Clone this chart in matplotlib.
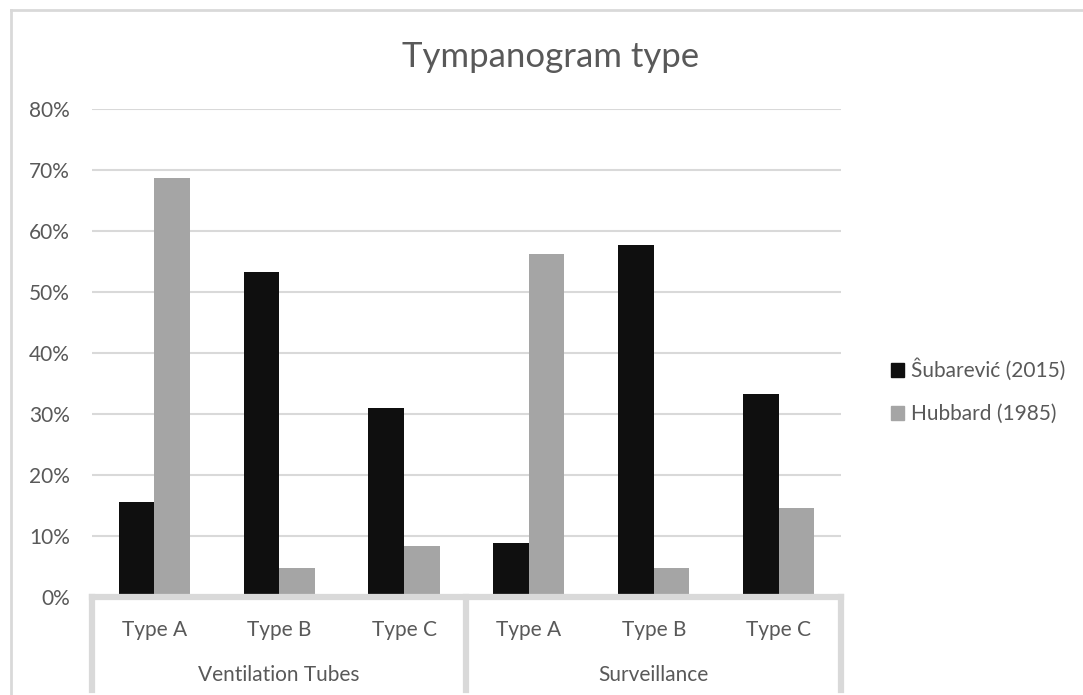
import numpy as np
import matplotlib.pyplot as plt
from matplotlib.lines import Line2D
from matplotlib.patches import Patch

types = ["Type A", "Type B", "Type C"]
groups = ["Ventilation Tubes", "Surveillance"]
series = ["Ŝubarević (2015)", "Hubbard (1985)"]

subarevic = [15.5, 53.2, 31.0, 8.8, 57.7, 33.3]
hubbard = [68.7, 4.6, 8.3, 56.2, 4.6, 14.5]

yticks = [0, 10, 20, 30, 40, 50, 60, 70, 80]

TEXT = "#595959"
GRID = "#d9d9d9"
BLACK = "#0f0f0f"
GREY = "#a5a5a5"


def main() -> None:
    plt.rcParams["font.family"] = ["Lato", "DejaVu Sans"]

    fig = plt.figure(figsize=(10.83, 6.95), dpi=100)
    ax = fig.add_axes([0.0849, 0.1417, 0.6916, 0.7015])

    x = np.arange(len(subarevic))
    w = 0.285
    ax.bar(x - w / 2, subarevic, w, color=BLACK, zorder=3)
    ax.bar(x + w / 2, hubbard, w, color=GREY, zorder=3)

    ax.set_xlim(-0.5, 5.5)
    ax.set_ylim(0, 80)
    ax.set_yticks(yticks)
    ax.set_yticklabels(["%d%%" % t for t in yticks])
    ax.yaxis.grid(True, color=GRID, linewidth=1.5, zorder=0)
    ax.tick_params(axis="y", length=0, pad=16, labelsize=15, labelcolor=TEXT)

    for s in ["top", "right", "left"]:
        ax.spines[s].set_visible(False)
    ax.spines["bottom"].set_color(GRID)
    ax.spines["bottom"].set_linewidth(4.5)
    ax.spines["bottom"].set_zorder(4)

    # two-level category axis
    ax.set_xticks(x)
    ax.set_xticklabels(types * len(groups))
    ax.tick_params(axis="x", length=0, pad=17, labelsize=15, labelcolor=TEXT)

    trans = ax.get_xaxis_transform()
    for xs in [-0.5, 2.5, 5.5]:
        ax.add_line(Line2D([xs, xs], [0, -0.192], transform=trans,
                           color=GRID, linewidth=4.5, clip_on=False))
    for i, g in enumerate(groups):
        ax.text(3 * i + 1, -0.16, g, transform=trans, ha="center",
                va="center", fontsize=15, color=TEXT)

    fig.text(0.5088, 0.918, "Tympanogram type", ha="center", va="center",
             fontsize=25, color=TEXT)

    handles = [Patch(color=BLACK), Patch(color=GREY)]
    fig.legend(handles, series, loc="center left",
               bbox_to_anchor=(0.805, 0.437), frameon=False, fontsize=15,
               labelcolor=TEXT, handlelength=0.65, handleheight=0.65,
               handletextpad=0.35, labelspacing=1.1)

    # outer chart border
    fig.add_artist(Line2D([0.0106, 1.0], [0.9849, 0.9849], color=GRID,
                          linewidth=2, transform=fig.transFigure))
    fig.add_artist(Line2D([0.0106, 0.0106], [0.0, 0.9849], color=GRID,
                          linewidth=2, transform=fig.transFigure))

    fig.savefig("out.png", dpi=100)


if __name__ == "__main__":
    main()
